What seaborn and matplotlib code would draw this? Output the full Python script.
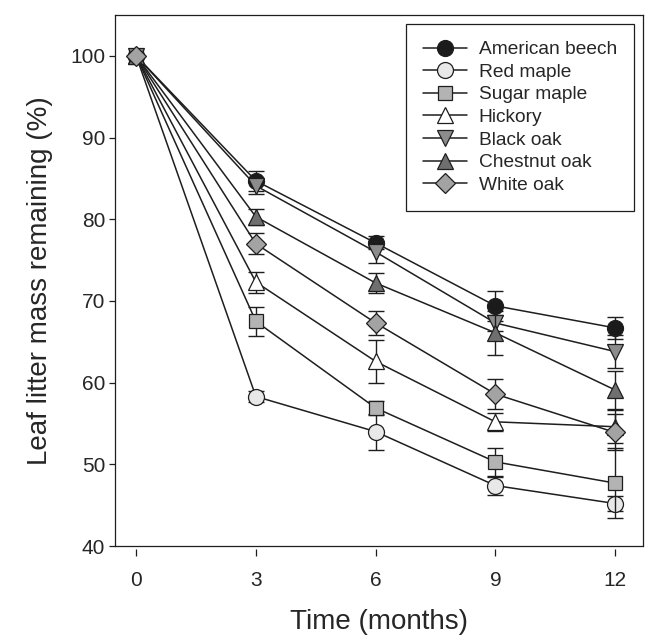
import numpy as np
import pandas as pd
import matplotlib
matplotlib.use('Agg')
import matplotlib.pyplot as plt
import seaborn as sns

# Data: % leaf litter mass remaining (mean and error)
months = [0, 3, 6, 9, 12]
species = ['American beech', 'Red maple', 'Sugar maple', 'Hickory',
           'Black oak', 'Chestnut oak', 'White oak']

beech = [100, 84.7, 77.1, 69.4, 66.7]
red_maple = [100, 58.3, 54.0, 47.4, 45.2]
sugar_maple = [100, 67.5, 56.9, 50.3, 47.7]
hickory = [100, 72.3, 62.6, 55.2, 54.6]
black_oak = [100, 84.1, 76.0, 67.3, 63.8]
chestnut_oak = [100, 80.3, 72.2, 66.1, 59.1]
white_oak = [100, 77.0, 67.3, 58.6, 53.9]

beech_err = [0, 1.2, 0.8, 1.8, 1.35]
red_maple_err = [0, 0.7, 2.2, 1.1, 0.9]
sugar_maple_err = [0, 1.8, 0.9, 1.7, 4.3]
hickory_err = [0, 1.3, 2.6, 1.1, 2.0]
black_oak_err = [0, 1.0, 1.35, 1.0, 2.0]
chestnut_oak_err = [0, 1.0, 1.2, 2.7, 2.3]
white_oak_err = [0, 1.3, 1.45, 1.85, 2.2]

means = [beech, red_maple, sugar_maple, hickory, black_oak, chestnut_oak, white_oak]
errs = [beech_err, red_maple_err, sugar_maple_err, hickory_err,
        black_oak_err, chestnut_oak_err, white_oak_err]

markers = ['o', 'o', 's', '^', 'v', '^', 'D']
face_colors = ['#1b1b1b', '#e8e8e8', '#b3b3b3', '#ffffff', '#8c8c8c', '#6f6f6f', '#a3a3a3']
marker_sizes = [11.5, 11.5, 10.5, 12, 12, 12, 10.5]

rows = []
for name, m, e in zip(species, means, errs):
    for t, v, s in zip(months, m, e):
        rows.append({'species': name, 'month': t, 'mass': v, 'err': s})
df = pd.DataFrame(rows)

sns.set_style('ticks')
plt.rcParams['font.family'] = ['Liberation Sans', 'DejaVu Sans']

fig = plt.figure(figsize=(6.46, 6.39), dpi=100)
ax = fig.add_axes([115 / 646, 1 - 546 / 639, (643 - 115) / 646, (546 - 15) / 639])

edge = '#1e1e1e'
for i, name in enumerate(species):
    sub = df[df['species'] == name]
    ax.errorbar(sub['month'], sub['mass'], yerr=sub['err'], fmt='none',
                ecolor=edge, elinewidth=1.0, capsize=5.5, capthick=1.0,
                zorder=2 + i * 0.1)
    sns.lineplot(data=sub, x='month', y='mass', ax=ax, color=edge,
                 linewidth=1.1, marker=markers[i], markersize=marker_sizes[i],
                 markerfacecolor=face_colors[i], markeredgecolor=edge,
                 markeredgewidth=0.9, label=name, errorbar=None,
                 zorder=2.05 + i * 0.1)

ax.set_xlim(-0.53, 12.7)
ax.set_ylim(40, 105)
ax.set_xticks(months)
ax.set_yticks([40, 50, 60, 70, 80, 90, 100])

# frame: bottom line drawn separately so the x ticks sit slightly below it
for s in ['left', 'top', 'right']:
    ax.spines[s].set_linewidth(0.9)
    ax.spines[s].set_color(edge)
ax.spines['bottom'].set_position(('outward', 2))
ax.spines['bottom'].set_visible(False)
ax.plot([0, 1], [0, 0], transform=ax.transAxes, color=edge, lw=0.9,
        clip_on=False, zorder=5)

ax.tick_params(axis='x', direction='out', length=5, width=0.9, color=edge,
               labelsize=15, pad=11)
ax.tick_params(axis='y', direction='out', length=4, width=0.9, color=edge,
               labelsize=15, pad=3)

ax.set_xlabel('Time (months)', fontsize=20, labelpad=14)
ax.set_ylabel('Leaf litter mass remaining (%)', fontsize=20, labelpad=12)

leg = ax.legend(loc='upper right', fontsize=13.8, frameon=True, fancybox=False,
                edgecolor=edge, framealpha=1, borderpad=0.9, labelspacing=0.27,
                handlelength=2.3, handletextpad=0.6, borderaxespad=0.45)
leg.get_frame().set_linewidth(0.9)

fig.savefig('out.png', dpi=100)
